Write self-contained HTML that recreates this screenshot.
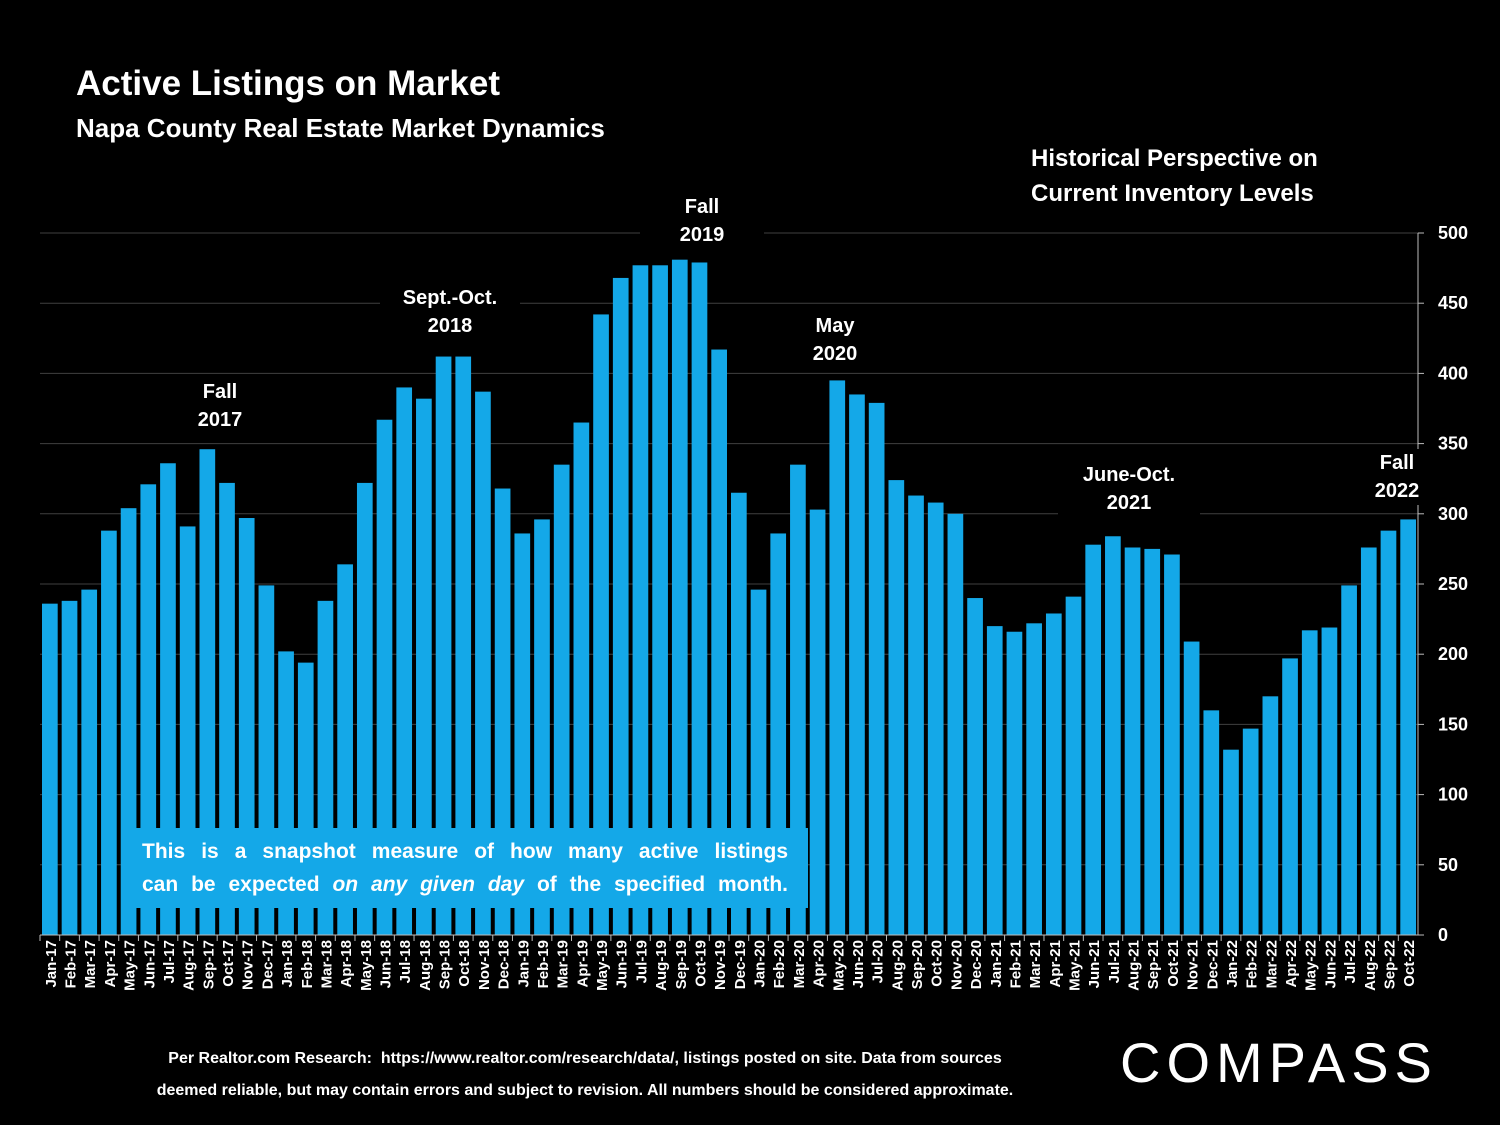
<!DOCTYPE html>
<html><head><meta charset="utf-8">
<style>
body{margin:0;background:#000;width:1500px;height:1125px;overflow:hidden;font-family:"Liberation Sans",sans-serif;color:#fff}
.t{position:absolute;font-weight:bold;color:#fff}
.ann{position:absolute;background:#000;text-align:center;font-weight:bold;font-size:20px;line-height:28px;padding:0 10px}
</style></head><body>
<div class="t" style="left:76px;top:64px;font-size:35px">Active Listings on Market</div>
<div class="t" style="left:76px;top:113px;font-size:26px">Napa County Real Estate Market Dynamics</div>
<div class="t" style="left:1031px;top:141px;font-size:24px;line-height:35px">Historical Perspective on<br>Current Inventory Levels</div>
<svg id="chart" width="1500" height="1125" style="position:absolute;left:0;top:0"></svg>
<div class="ann" style="left:165px;top:378px;width:90px">Fall<br>2017</div>
<div class="ann" style="left:380px;top:284px;width:120px">Sept.-Oct.<br>2018</div>
<div class="ann" style="left:640px;top:193px;width:104px">Fall<br>2019</div>
<div class="ann" style="left:790px;top:312px;width:70px">May<br>2020</div>
<div class="ann" style="left:1058px;top:461px;width:122px">June-Oct.<br>2021</div>
<div class="ann" style="left:1368px;top:449px;width:52px;padding:0 3px">Fall<br>2022</div>
<div style="position:absolute;left:122px;top:828px;width:646px;background:#14a8e8;padding:0 20px;font-weight:bold;font-size:21px;line-height:33px;text-align:justify;text-align-last:justify;padding-top:7px;height:73px">This is a snapshot measure of how many active listings<br>can be expected <i>on any given day</i> of the specified month.</div>
<div class="t" style="left:70px;top:1043px;width:1030px;text-align:center;font-size:16px;line-height:32px">Per Realtor.com Research:&nbsp; https://www.realtor.com/research/data/, listings posted on site. Data from sources<br>deemed reliable, but may contain errors and subject to revision. All numbers should be considered approximate.</div>
<div style="position:absolute;left:1120px;top:1030px;font-size:56px;letter-spacing:6px;color:#fff">COMPASS</div>
<script>
const months=["Jan","Feb","Mar","Apr","May","Jun","Jul","Aug","Sep","Oct","Nov","Dec"];
const categories=[];
for(let y=17;y<=22;y++)for(const m of months){categories.push(m+"-"+y);}
categories.length=70;
const values=[236,238,246,288,304,321,336,291,346,322,297,249,202,194,238,264,322,367,390,382,412,412,387,318,286,296,335,365,442,468,477,477,481,479,417,315,246,286,335,303,395,385,379,324,313,308,300,240,220,216,222,229,241,278,284,276,275,271,209,160,132,147,170,197,217,219,249,276,288,296];
const ticks=[0,50,100,150,200,250,300,350,400,450,500];
const svg=document.getElementById('chart');
const NS="http://www.w3.org/2000/svg";
const x0=40,x1=1418,yb=935,yt=233,vmax=500;
const ys=v=>yb-(v/vmax)*(yb-yt);
const slot=(x1-x0)/categories.length;
const xs=i=>x0+i*slot;
function mk(t,a){const e=document.createElementNS(NS,t);for(const k in a)e.setAttribute(k,a[k]);svg.appendChild(e);return e;}
ticks.forEach(t=>{
 if(t>0){const g=mk('line',{x1:x0,x2:x1,y1:ys(t),y2:ys(t),stroke:'#404040','stroke-width':1});
 
 }
 const tk=mk('line',{x1:x1,x2:x1+6,y1:ys(t),y2:ys(t),stroke:'#bbb'});
 
 
 const l=mk('text',{x:1438,y:ys(t)+6,fill:'#fff','font-size':18,'font-weight':'bold','font-family':'Liberation Sans, sans-serif'});
 l.textContent=t;
 
 
});
const ax=mk('line',{x1:x1,x2:x1,y1:yt,y2:yb,stroke:'#bbb'});


values.forEach((v,i)=>{
 const r=mk('rect',{x:xs(i)+2,y:ys(v),width:slot-4,height:yb-ys(v),fill:'#14a8e8'});
 
 
});
const bx=mk('line',{x1:x0,x2:x1,y1:yb,y2:yb,stroke:'#bbb'});


categories.forEach((c,i)=>{
 const cx=xs(i)+slot/2;
 const tk=mk('line',{x1:xs(i),x2:xs(i),y1:yb,y2:yb+6,stroke:'#bbb'});
 
 
 const l=mk('text',{x:0,y:0,fill:'#fff','font-size':15,'font-weight':'bold','text-anchor':'end','font-family':'Liberation Sans, sans-serif',transform:`translate(${cx+6},${yb+5}) rotate(-90)`});
 l.textContent=c;
 
 
});
</script>
</body></html>
